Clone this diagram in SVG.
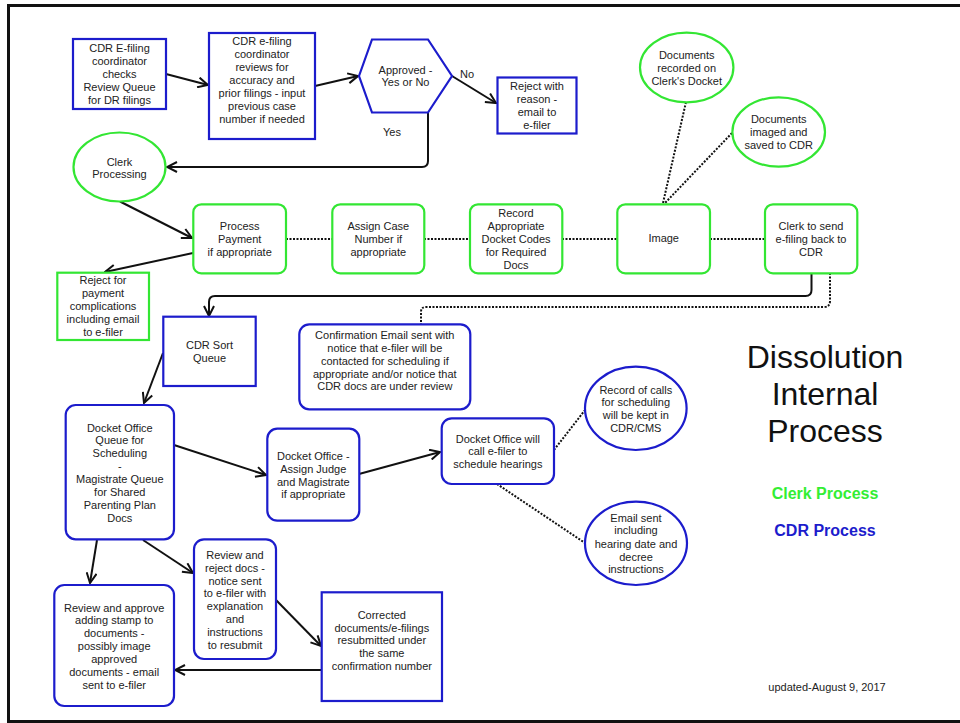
<svg xmlns="http://www.w3.org/2000/svg" width="960" height="723" viewBox="0 0 960 723">
<style>
text{font-family:"Liberation Sans",Arial,sans-serif;font-size:11px;fill:#222;text-anchor:middle}
.g{fill:#fff;stroke:#33e633;stroke-width:2.2}
.b{fill:#fff;stroke:#1c1ccc;stroke-width:2.2}
.c{fill:none;stroke:#111;stroke-width:2}
.d{fill:none;stroke:#111;stroke-width:2;stroke-dasharray:2 1.5}
.title{font-size:32px;fill:#111}
.lg{font-size:16px;font-weight:bold}
</style>
<defs>
<marker id="ah" viewBox="0 0 12 12" refX="11" refY="6" markerWidth="12" markerHeight="12" markerUnits="userSpaceOnUse" orient="auto">
<path d="M1,1 L11,6 L1,11" fill="none" stroke="#111" stroke-width="2"/>
</marker>
</defs>
<rect x="0" y="0" width="960" height="723" fill="#fff"/>
<rect x="8.5" y="5.5" width="960" height="716" fill="none" stroke="#111" stroke-width="3"/>

<g id="connectors">
<line class="c" x1="166" y1="74" x2="208" y2="85" marker-end="url(#ah)"/>
<line class="c" x1="315" y1="86" x2="358" y2="76" marker-end="url(#ah)"/>
<line class="c" x1="452" y1="76" x2="496" y2="103" marker-end="url(#ah)"/>
<path class="c" d="M428,113 L428,161 Q428,167 422,167 L167,167" marker-end="url(#ah)"/>
<line class="d" x1="686" y1="102" x2="663" y2="203"/>
<line class="d" x1="732" y1="133" x2="665" y2="203"/>
<line class="c" x1="120" y1="201.5" x2="192" y2="238" marker-end="url(#ah)"/>
<line class="c" x1="193" y1="253" x2="105" y2="272" marker-end="url(#ah)"/>
<line class="d" x1="286" y1="239" x2="332" y2="239"/>
<line class="d" x1="424" y1="239" x2="470" y2="239"/>
<line class="d" x1="562" y1="239" x2="617" y2="239"/>
<line class="d" x1="710" y1="239" x2="765" y2="239"/>
<path class="c" d="M811.5,273 L811.5,290 Q811.5,296 805.5,296 L215,296 Q209,296 209,302 L209,316" marker-end="url(#ah)"/>
<path class="d" d="M830,273 L830,301 Q830,307 824,307 L426,307 Q421,307 421,312 L421,324"/>
<line class="c" x1="163" y1="353" x2="144" y2="403" marker-end="url(#ah)"/>
<line class="c" x1="174" y1="445" x2="266" y2="475" marker-end="url(#ah)"/>
<line class="c" x1="359" y1="474" x2="440" y2="452" marker-end="url(#ah)"/>
<line class="d" x1="554" y1="450" x2="585" y2="410"/>
<line class="d" x1="497" y1="484" x2="585" y2="543"/>
<line class="c" x1="97" y1="540" x2="90" y2="583" marker-end="url(#ah)"/>
<line class="c" x1="143" y1="540" x2="193" y2="573" marker-end="url(#ah)"/>
<line class="c" x1="276" y1="600" x2="321" y2="646" marker-end="url(#ah)"/>
<line class="c" x1="321.5" y1="670" x2="175" y2="670" marker-end="url(#ah)"/>
</g>

<g id="n1"><rect class="b" x="73" y="39" width="93" height="70"/>
<text x="119.5" y="52">CDR E-filing</text><text x="119.5" y="65">coordinator</text><text x="119.5" y="78">checks</text><text x="119.5" y="91">Review Queue</text><text x="119.5" y="104">for DR filings</text></g>

<g id="n2"><rect class="b" x="209" y="33" width="106" height="106"/>
<text x="262" y="45">CDR e-filing</text><text x="262" y="58">coordinator</text><text x="262" y="71">reviews for</text><text x="262" y="84">accuracy and</text><text x="262" y="97">prior filings - input</text><text x="262" y="110">previous case</text><text x="262" y="122.5">number if needed</text></g>

<g id="hex"><polygon class="b" points="359,76 372,39.5 428,39.5 452,76 428,112.5 372,112.5"/>
<text x="405.5" y="74">Approved -</text><text x="405.5" y="86">Yes or No</text></g>
<text x="467" y="78">No</text>
<text x="392" y="136">Yes</text>

<g id="reject1"><rect class="b" x="497.5" y="77.5" width="79" height="56"/>
<text x="537" y="90">Reject with</text><text x="537" y="103">reason -</text><text x="537" y="116">email to</text><text x="537" y="129">e-filer</text></g>

<g id="clerk"><ellipse class="g" cx="119.5" cy="167" rx="46" ry="34.5"/>
<text x="119.5" y="165.5">Clerk</text><text x="119.5" y="178">Processing</text></g>

<g id="docsrec"><ellipse class="g" cx="686.7" cy="67.5" rx="46.7" ry="34.8"/>
<text x="686.7" y="59">Documents</text><text x="686.7" y="72">recorded on</text><text x="686.7" y="85">Clerk's Docket</text></g>

<g id="docsimg"><ellipse class="g" cx="778.7" cy="132" rx="46.3" ry="34.7"/>
<text x="778.7" y="123">Documents</text><text x="778.7" y="136">imaged and</text><text x="778.7" y="149">saved to CDR</text></g>

<g id="payment"><rect class="g" x="193.3" y="204.3" width="92.7" height="69" rx="8"/>
<text x="239.7" y="230">Process</text><text x="239.7" y="243">Payment</text><text x="239.7" y="256">if appropriate</text></g>

<g id="assigncase"><rect class="g" x="332.3" y="204.3" width="92" height="69" rx="8"/>
<text x="378.3" y="230">Assign Case</text><text x="378.3" y="243">Number if</text><text x="378.3" y="256">appropriate</text></g>

<g id="record"><rect class="g" x="470" y="204.3" width="92.3" height="69" rx="8"/>
<text x="516" y="217">Record</text><text x="516" y="230">Appropriate</text><text x="516" y="243">Docket Codes</text><text x="516" y="256">for Required</text><text x="516" y="269">Docs</text></g>

<g id="image"><rect class="g" x="617.3" y="204.3" width="92.7" height="69" rx="8"/>
<text x="663.7" y="242">Image</text></g>

<g id="clerksend"><rect class="g" x="765" y="204.3" width="92.3" height="69" rx="8"/>
<text x="811" y="230">Clerk to send</text><text x="811" y="243">e-filing back to</text><text x="811" y="256">CDR</text></g>

<g id="rejectpay"><rect class="g" x="57.3" y="272.7" width="91.7" height="67.3"/>
<text x="103" y="284">Reject for</text><text x="103" y="297">payment</text><text x="103" y="310">complications</text><text x="103" y="323">including email</text><text x="103" y="336">to e-filer</text></g>

<g id="sortq"><rect class="b" x="163.3" y="316.7" width="92.4" height="69.3"/>
<text x="209.5" y="349">CDR Sort</text><text x="209.5" y="362">Queue</text></g>

<g id="confirm"><rect class="b" x="299.3" y="324.3" width="171" height="85" rx="10"/>
<text x="384.8" y="339">Confirmation Email sent with</text><text x="384.8" y="351.5">notice that e-filer will be</text><text x="384.8" y="364.5">contacted for scheduling if</text><text x="384.8" y="377.5">appropriate and/or notice that</text><text x="384.8" y="390">CDR docs are under review</text></g>

<g id="docketq"><rect class="b" x="65.7" y="405" width="108.3" height="134.3" rx="10"/>
<text x="119.8" y="431.5">Docket Office</text><text x="119.8" y="444">Queue for</text><text x="119.8" y="457">Scheduling</text><text x="119.8" y="470">-</text><text x="119.8" y="483">Magistrate Queue</text><text x="119.8" y="496">for Shared</text><text x="119.8" y="509">Parenting Plan</text><text x="119.8" y="521.5">Docs</text></g>

<g id="assignjudge"><rect class="b" x="267.3" y="428.7" width="92" height="92" rx="10"/>
<text x="313.3" y="460">Docket Office -</text><text x="313.3" y="472.5">Assign Judge</text><text x="313.3" y="485.5">and Magistrate</text><text x="313.3" y="498">if appropriate</text></g>

<g id="callfiler"><rect class="b" x="441.7" y="418.3" width="112.3" height="65.7" rx="10"/>
<text x="497.8" y="442.5">Docket Office will</text><text x="497.8" y="455">call e-filer to</text><text x="497.8" y="468">schedule hearings</text></g>

<g id="recordcalls"><ellipse class="b" cx="635.8" cy="408.3" rx="50.8" ry="41.7"/>
<text x="635.8" y="393.5">Record of calls</text><text x="635.8" y="406">for scheduling</text><text x="635.8" y="419">will be kept in</text><text x="635.8" y="432">CDR/CMS</text></g>

<g id="emailsent"><ellipse class="b" cx="636" cy="543.3" rx="51" ry="41.7"/>
<text x="636" y="521.5">Email sent</text><text x="636" y="534">including</text><text x="636" y="547.5">hearing date and</text><text x="636" y="560.5">decree</text><text x="636" y="573">instructions</text></g>

<g id="reviewreject"><rect class="b" x="194" y="539.3" width="82" height="119.7" rx="10"/>
<text x="235" y="558.5">Review and</text><text x="235" y="571.5">reject docs -</text><text x="235" y="584.5">notice sent</text><text x="235" y="597">to e-filer with</text><text x="235" y="610">explanation</text><text x="235" y="623">and</text><text x="235" y="636">instructions</text><text x="235" y="648.5">to resubmit</text></g>

<g id="reviewapprove"><rect class="b" x="54.3" y="585" width="119.7" height="121" rx="10"/>
<text x="114.2" y="611.5">Review and approve</text><text x="114.2" y="624">adding stamp to</text><text x="114.2" y="637">documents -</text><text x="114.2" y="650">possibly image</text><text x="114.2" y="663">approved</text><text x="114.2" y="675.5">documents - email</text><text x="114.2" y="688.5">sent to e-filer</text></g>

<g id="corrected"><rect class="b" x="321.7" y="592.3" width="120.3" height="108.7"/>
<text x="381.8" y="618.5">Corrected</text><text x="381.8" y="631.5">documents/e-filings</text><text x="381.8" y="644">resubmitted under</text><text x="381.8" y="657">the same</text><text x="381.8" y="670">confirmation number</text></g>

<g id="legend">
<text class="title" x="825" y="368">Dissolution</text>
<text class="title" x="825" y="405">Internal</text>
<text class="title" x="825" y="442">Process</text>
<text class="lg" x="825" y="499" style="fill:#33ee33">Clerk Process</text>
<text class="lg" x="825" y="536" style="fill:#1c1ccc">CDR Process</text>
<text x="827" y="691">updated-August 9, 2017</text>
</g>
</svg>
